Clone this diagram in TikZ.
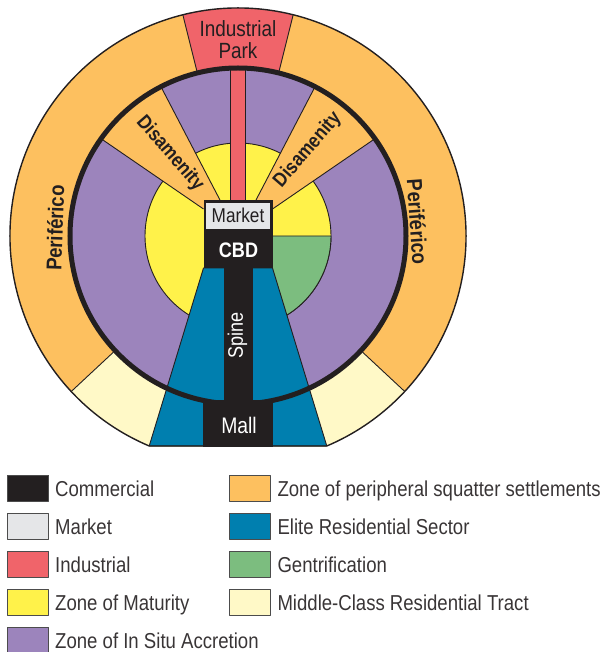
\documentclass[tikz,border=0pt]{standalone}
\usepackage{fontspec}
\setmainfont{Liberation Sans}[FakeStretch=0.86]
\definecolor{orangeZ}{RGB}{253,192,95}
\definecolor{purpleZ}{RGB}{156,132,188}
\definecolor{yellowZ}{RGB}{255,242,74}
\definecolor{greenZ}{RGB}{124,189,127}
\definecolor{blueZ}{RGB}{0,127,175}
\definecolor{redZ}{RGB}{240,100,106}
\definecolor{creamZ}{RGB}{255,249,199}
\definecolor{grayZ}{RGB}{229,230,232}
\definecolor{blackZ}{RGB}{35,31,32}
\newcommand{\myfs}[1]{\fontsize{#1}{#1}\selectfont}
\begin{document}
\begin{tikzpicture}[x=1pt,y=1pt,line join=round]
\tikzset{
  edge/.style={draw=blackZ,line width=0.9pt},
  lbl/.style={inner sep=0pt,text=blackZ},
  swatch/.style={draw=black!70,line width=0.8pt,minimum width=41pt,minimum height=26pt,inner sep=0pt},
  legtxt/.style={anchor=base west,inner sep=0pt,text=blackZ!90,font=\myfs{21.6}},
}
\useasboundingbox (-238,-416) rectangle (369,236);
\begin{scope}
  \clip (-240,-210) rectangle (240,240);
  \clip (0,0) circle[radius=228];
  % periferico ring
  \fill[orangeZ] (-240,-240) rectangle (240,240);
  % industrial park
  \fill[redZ] (0,0) -- (76:240) arc[start angle=76,end angle=104,radius=240] -- cycle;
  \draw[edge] (76:168) -- (76:232);
  \draw[edge] (104:168) -- (104:232);
  % middle-class tracts
  \fill[creamZ] (0,0) -- (-137:240) arc[start angle=-137,end angle=-90,radius=240] -- cycle;
  \fill[creamZ] (0,0) -- (-43:240) arc[start angle=-43,end angle=-90,radius=240] -- cycle;
  \draw[edge] (-137:168) -- (-137:232);
  \draw[edge] (-43:168) -- (-43:232);
  % in situ accretion
  \fill[purpleZ] (0,0) circle[radius=168];
  % maturity
  \filldraw[fill=yellowZ,edge] (0,0) circle[radius=93];
  % gentrification
  \filldraw[fill=greenZ,edge] (0,0) -- (93,0) arc[start angle=0,end angle=-90,radius=93] -- cycle;
  % disamenity wedges
  \fill[orangeZ] (-34.5,27) -- (144.6:168) arc[start angle=144.6,end angle=117.3,radius=168] -- (-17.5,35) -- cycle;
  \draw[edge] (-34.5,27) -- (144.6:168);
  \draw[edge] (-17.5,35) -- (117.3:168);
  \fill[orangeZ] (34.5,27) -- (35.4:168) arc[start angle=35.4,end angle=62.7,radius=168] -- (17.5,35) -- cycle;
  \draw[edge] (34.5,27) -- (35.4:168);
  \draw[edge] (17.5,35) -- (62.7:168);
  % industrial strip
  \filldraw[fill=redZ,edge] (-7.5,35) rectangle (7.5,168);
  % elite residential sector
  \filldraw[fill=blueZ,edge] (-34.5,-32) -- (34.5,-32) -- (88.8,-210) -- (-88.8,-210) -- cycle;
  % thick ring
  \draw[blackZ,line width=5pt] (0,0) circle[radius=168];
  % spine and mall
  \fill[blackZ] (-14.5,-30) rectangle (14.5,-166);
  \fill[blackZ] (-35,-212) rectangle (35,-164);
\end{scope}
% outer outline
\draw[blackZ,line width=1.4pt] (247.1:228) arc[start angle=247.1,end angle=-67.1,radius=228] -- cycle;
% CBD and market
\fill[blackZ] (-34.5,-32) rectangle (34.5,35.5);
\fill[grayZ] (-31.7,7) rectangle (31.7,33.3);
% labels
\node[lbl,font=\myfs{22},align=center] (ip) at (0,196.5) {Industrial\\[-0.4pt]Park};
\node[lbl,font=\myfs{20},anchor=base] (mk) at (0,13.3) {Market};
\node[lbl,font=\bfseries\myfs{21},text=white,anchor=base] (cbd) at (0.5,-21.7) {CBD};
\node[lbl,font=\myfs{21},text=white,rotate=90] (sp) at (-0.5,-99.3) {Spine};
\node[lbl,font=\myfs{22.5},text=white,anchor=base] (mall) at (1,-197.3) {Mall};
\node[lbl,font=\bfseries\myfs{21.5},rotate=88] (pl) at (-183,8) {Periférico};
\node[lbl,font=\bfseries\myfs{21.5},rotate=-86] (pr) at (179.5,14) {Periférico};
\node[lbl,font=\bfseries\myfs{20},rotate=-49] (dl) at (-68,82.7) {Disamenity};
\node[lbl,font=\bfseries\myfs{20},rotate=49] (dr) at (69.7,86) {Disamenity};
% legend
\node[swatch,fill=blackZ] (s1) at (-209.7,-252) {};
\node[swatch,fill=grayZ] (s2) at (-209.7,-290) {};
\node[swatch,fill=redZ] (s3) at (-209.7,-328) {};
\node[swatch,fill=yellowZ] (s4) at (-209.7,-366) {};
\node[swatch,fill=purpleZ] (s5) at (-209.7,-404) {};
\node[swatch,fill=orangeZ] (s6) at (11.6,-252) {};
\node[swatch,fill=blueZ] (s7) at (11.6,-290) {};
\node[swatch,fill=greenZ] (s8) at (11.6,-328) {};
\node[swatch,fill=creamZ] (s9) at (11.6,-366) {};
\node[legtxt] (t1) at (-183,-260.5) {Commercial};
\node[legtxt] (t2) at (-183,-298.5) {Market};
\node[legtxt] (t3) at (-183,-336.5) {Industrial};
\node[legtxt] (t4) at (-183,-374.5) {Zone of Maturity};
\node[legtxt] (t5) at (-183,-412.5) {Zone of In Situ Accretion};
\node[legtxt] (t6) at (39.3,-260.5) {Zone of peripheral squatter settlements};
\node[legtxt] (t7) at (39.3,-298.5) {Elite Residential Sector};
\node[legtxt] (t8) at (39.3,-336.5) {Gentrification};
\node[legtxt] (t9) at (39.3,-374.5) {Middle-Class Residential Tract};
\end{tikzpicture}
\end{document}
